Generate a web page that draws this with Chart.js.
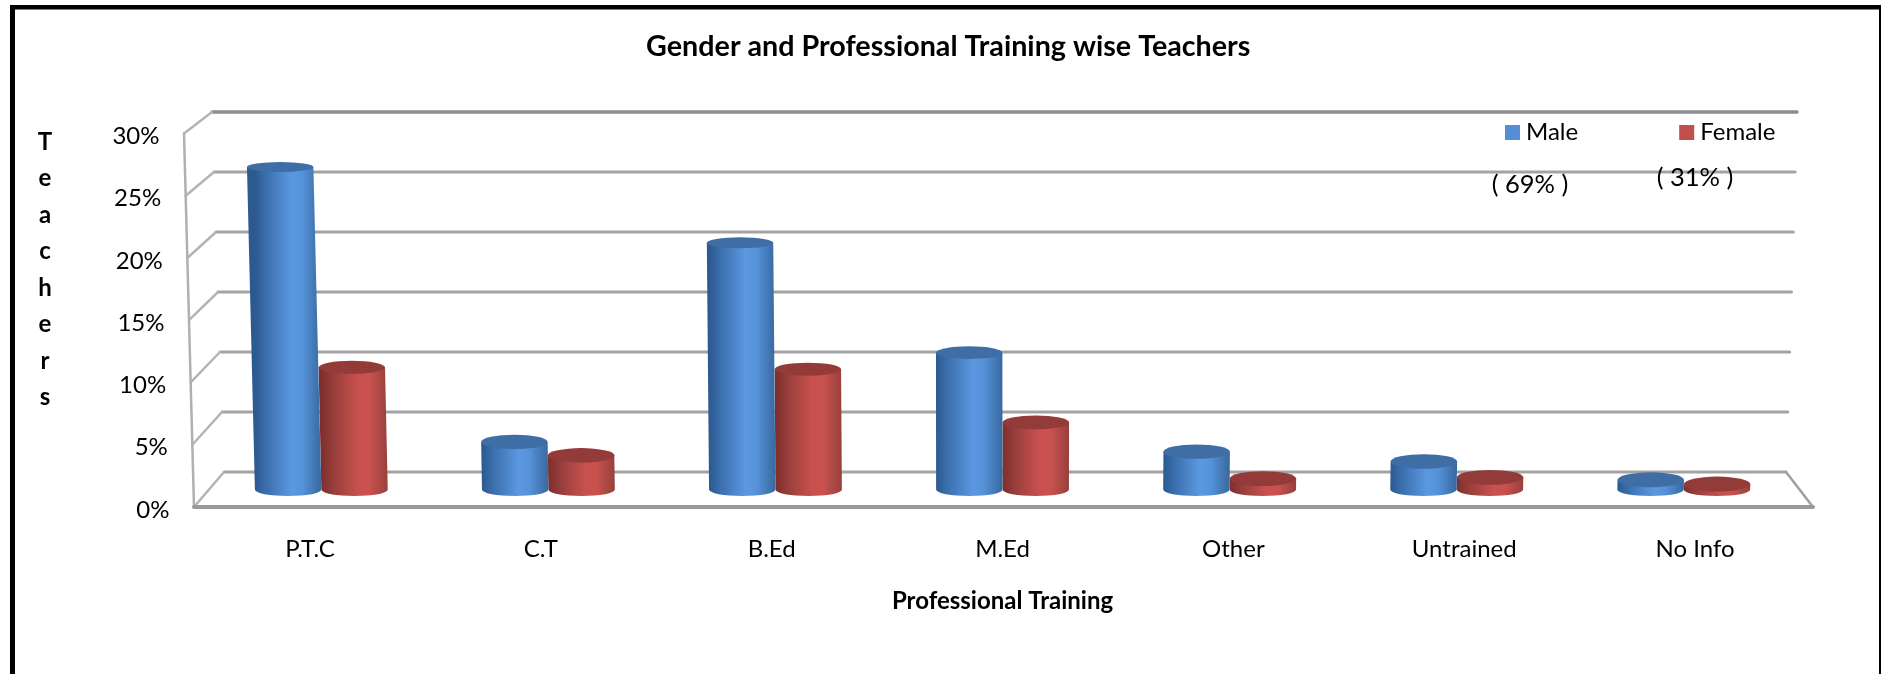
<!DOCTYPE html>
<html><head><meta charset="utf-8">
<style>html,body{margin:0;padding:0;background:#fff}#wrap{width:1881px;height:674px;position:relative}canvas{display:block;filter:blur(0.55px)}</style>
<script src="https://cdn.jsdelivr.net/npm/chart.js@4/dist/chart.umd.min.js"></script>
</head><body><div id="wrap"><canvas id="c" width="1881" height="674"></canvas></div>
<script>
const categories = ['P.T.C','C.T','B.Ed','M.Ed','Other','Untrained','No Info'];
const maleValues = [26.4,3.9,20.2,11.2,3.1,2.3,0.8];
const femaleValues = [10.0,2.8,9.85,5.5,0.9,1.0,0.45];
const tickStep = 5, axisMax = 30;
const titleText = 'Gender and Professional Training wise Teachers';
const xTitleText = 'Professional Training';
const yTitleLetters = ['T','e','a','c','h','e','r','s'];
const shareNotes = [['( 69% )',1530,185],['( 31% )',1695,178]];
const FONT = 'Lato';

// wall/floor perspective
const VX = 1005;
const grey = '#a3a3a3';
function frontX(v){return 194 - 10*v/30;}
function backLX(v){return 224 - 12*v/30;}
function backRX(v){return 1786 + 11*v/30;}
function backY(v){return 472 - 12*v;}

const cylinders = {
  id:'scene',
  beforeLayout(chart){
    const l = chart.legend, f = l.fit;
    l.fit = function(){ f.call(this); this.height = 0; };
  },
  afterLayout(chart){
    const l = chart.legend, pad = l.options.labels.padding;
    l.left = 1511 - pad; l.right = 2300; l.top = 120.5 - pad; l.bottom = 150;
    const t = chart.titleBlock;
    t.left += 43; t.right += 43;
    const y = chart.scales.y;
    y.getLabelItems().forEach((it,i)=>{
      const v = y.ticks[i].value;
      it.options.translation = [it.options.translation[0] + (frontX(v)-194) - 17, it.options.translation[1] + 3];
    });
  },
  beforeDatasetsDraw(chart){
    const {ctx} = chart, y = chart.scales.y;
    ctx.save();
    ctx.lineCap='round';
    // frame
    ctx.fillStyle='#000';
    ctx.fillRect(10,5,1871,4.5);
    ctx.fillRect(10,5,5,669);
    ctx.fillRect(1879,5,2,669);
    // back grid lines and side ticks
    y.ticks.forEach(t=>{
      const v=t.value, fy=y.getPixelForValue(v), by=backY(v);
      ctx.strokeStyle = v===axisMax ? '#8c8c8c' : grey;
      ctx.lineWidth = v===axisMax ? 3.5 : 3;
      ctx.beginPath();ctx.moveTo(backLX(v),by);ctx.lineTo(backRX(v),by);ctx.stroke();
      ctx.strokeStyle='#b4b4b4';ctx.lineWidth=2.5;
      ctx.beginPath();ctx.moveTo(frontX(v),fy);ctx.lineTo(backLX(v),by);ctx.stroke();
    });
    // front-left edge
    ctx.strokeStyle='#b0b0b0';ctx.lineWidth=2.5;
    ctx.beginPath();ctx.moveTo(frontX(axisMax),y.getPixelForValue(axisMax));ctx.lineTo(frontX(0),y.getPixelForValue(0));ctx.stroke();
    // floor
    ctx.strokeStyle='#a0a0a0';ctx.lineWidth=2.5;
    ctx.beginPath();ctx.moveTo(1786,472);ctx.lineTo(1813,507);ctx.stroke();
    ctx.strokeStyle='#999';ctx.lineWidth=4;
    ctx.beginPath();ctx.moveTo(194,507);ctx.lineTo(1813,507);ctx.stroke();
    ctx.restore();
  },
  beforeDatasetDraw(chart,args){
    const {ctx}=chart, i=args.index, meta=args.meta;
    const pal = i===0
      ? {stops:['#2c5a90','#3f74b4','#5b98e0','#5592d8','#38689f'],top:'#3f6ea6'}
      : {stops:['#7e2f2d','#9c403d','#c8514e','#c9524f','#98403c'],top:'#933b38'};
    const yB = chart.scales.yBars;
    meta.data.forEach((bar,k)=>{
      const v = chart.data.datasets[i].data[k];
      const depth = 0.9836, sl = 0.00042;
      const w = bar.width*depth, cx0 = VX+(bar.x-VX)*depth, cx1 = VX+(bar.x-VX)*depth*(1+sl*v);
      const y0 = yB.getPixelForValue(0), y1 = yB.getPixelForValue(v);
      const ry0 = 6.5, ry1 = Math.max(5, 7.5-0.1*v);
      const g = ctx.createLinearGradient(cx0-w/2,0,cx0+w/2,0);
      [0,0.22,0.55,0.72,1].forEach((p,n)=>g.addColorStop(p,pal.stops[n]));
      ctx.save();
      ctx.fillStyle=g;
      ctx.beginPath();
      ctx.moveTo(cx1-w/2,y1);
      ctx.lineTo(cx0-w/2,y0);
      ctx.ellipse(cx0,y0,w/2,ry0,0,Math.PI,0,true);
      ctx.lineTo(cx1+w/2,y1);
      ctx.closePath();ctx.fill();
      ctx.fillStyle=pal.top;
      ctx.beginPath();ctx.ellipse(cx1,y1,w/2,ry1,0,0,Math.PI*2);ctx.fill();
      ctx.restore();
    });
    return false;
  },
  afterDraw(chart){
    const {ctx}=chart;
    ctx.save();
    ctx.fillStyle='#000';ctx.textAlign='center';ctx.textBaseline='middle';
    ctx.font='bold 24px '+FONT;
    yTitleLetters.forEach((ch,n)=>ctx.fillText(ch,45,142+n*36.5));
    ctx.font='25.5px '+FONT;
    shareNotes.forEach(([s,x,y])=>ctx.fillText(s,x,y));
    ctx.restore();
  }
};

new Chart(document.getElementById('c'),{
  type:'bar',
  data:{labels:categories,datasets:[
    {label:'Male',data:maleValues,backgroundColor:'#558ed5',borderColor:'#558ed5',borderWidth:12,yAxisID:'yBars',barPercentage:1,categoryPercentage:0.585},
    {label:'Female',data:femaleValues,backgroundColor:'#c0504d',borderColor:'#c0504d',borderWidth:12,yAxisID:'yBars',barPercentage:1,categoryPercentage:0.585}
  ]},
  plugins:[cylinders],
  options:{
    responsive:false,animation:false,
    layout:{padding:{left:0,right:70.5,top:0,bottom:0}},
    plugins:{
      tooltip:{enabled:false},
      title:{display:true,text:titleText,color:'#000',font:{family:FONT,size:28.7,weight:'bold'},padding:{top:30,bottom:69}},
      legend:{display:true,position:'top',align:'start',
        labels:{boxWidth:3,boxHeight:3,padding:107,color:'#000',font:{family:FONT,size:24}}}
    },
    scales:{
      x:{type:'category',offset:true,
        grid:{display:false},border:{display:false},
        ticks:{color:'#000',font:{family:FONT,size:24},padding:20,maxRotation:0},
        title:{display:true,text:xTitleText,color:'#000',font:{family:FONT,size:24,weight:'bold'},padding:{top:0,bottom:58}},
        afterFit(s){s.height=167;}
      },
      y:{type:'linear',position:'left',min:0,max:axisMax,
        grid:{display:false},border:{display:false},
        ticks:{stepSize:tickStep,color:'#000',font:{family:FONT,size:24},padding:0,callback:v=>v+'%'},
        afterFit(s){s.width=194.5;}
      },
      yBars:{type:'linear',display:false,min:-1.43,max:29.15,grid:{display:false}}
    }
  }
});
</script></body></html>
